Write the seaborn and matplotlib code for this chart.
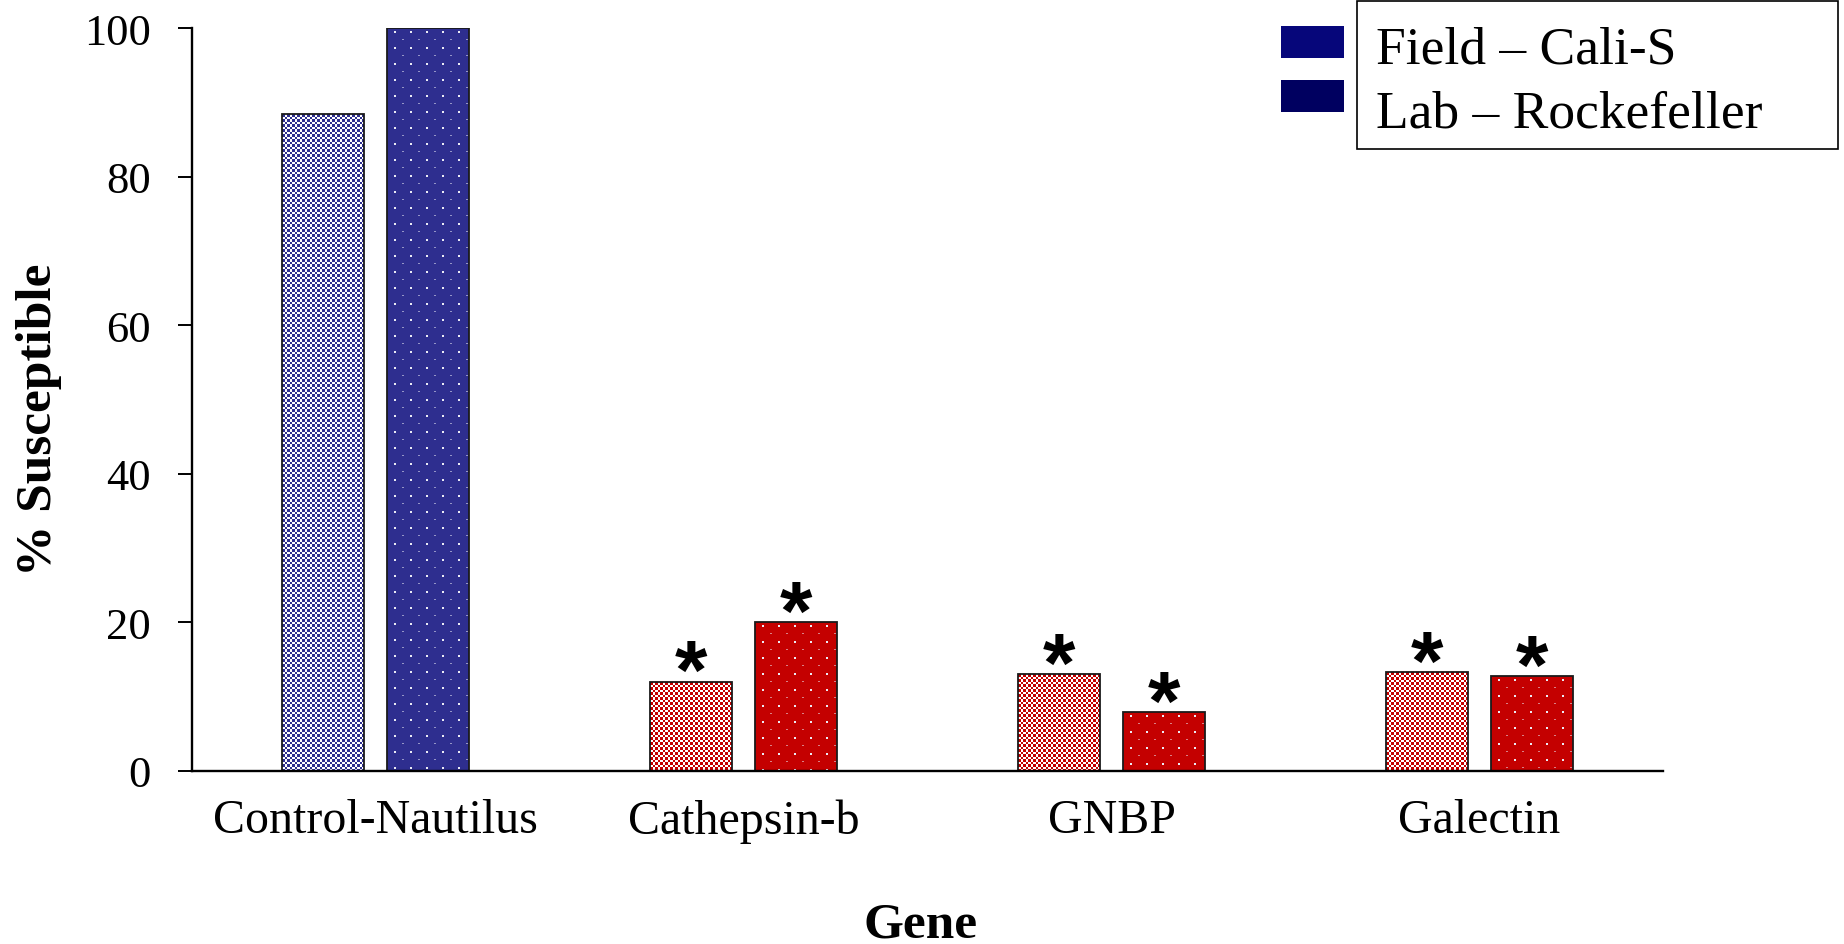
import matplotlib
matplotlib.use("Agg")
import matplotlib.pyplot as plt
import seaborn as sns
import numpy as np
import pandas as pd
from matplotlib.patches import Rectangle

# Data
genes = ["Control-Nautilus", "Cathepsin-b", "GNBP", "Galectin"]
strains = ["Field \u2013 Cali-S", "Lab \u2013 Rockefeller"]
field_pct = [88.5, 12.0, 13.0, 13.3]
lab_pct = [100.0, 20.0, 7.9, 12.7]
significant = [False, True, True, True]
yticks = [0, 20, 40, 60, 80, 100]

BLUE = (46, 46, 143)
RED = (196, 0, 0)
NAVY_FIELD = "#06067a"
NAVY_LAB = "#000060"

sns.set_theme(style="white")
plt.rcParams["font.family"] = ["Liberation Serif", "DejaVu Serif"]

df = pd.DataFrame({
    "Gene": genes * 2,
    "Strain": [strains[0]] * len(genes) + [strains[1]] * len(genes),
    "pct": field_pct + lab_pct,
})

DPI = 100
fig = plt.figure(figsize=(18.44, 9.45), dpi=DPI, facecolor="white")
ax = fig.add_axes([0.104, 0.1834, 0.7980, 0.7856])
ax.patch.set_visible(False)

sns.barplot(data=df, x="Gene", y="pct", hue="Strain", order=genes,
            hue_order=strains, width=0.572, gap=0.22, errorbar=None,
            legend=False, ax=ax)

ax.set_xlim(-0.5, len(genes) - 0.5)
ax.set_ylim(0, 100)


def checker(h, w, rgb):
    """Small checkerboard of the colour on white."""
    yy, xx = np.mgrid[0:h, 0:w]
    on = ((np.floor(yy / 2.5) + np.floor(xx / 2.5)) % 2) == 0
    img = np.full((h, w, 3), 255, dtype=np.uint8)
    img[on] = rgb
    return img


def dotted(h, w, rgb):
    """Solid colour with a staggered lattice of small light dots."""
    img = np.empty((h, w, 3), dtype=np.uint8)
    img[:] = rgb
    light = np.array([235, 235, 245], dtype=float)
    base = np.array(rgb, dtype=float)
    dash = 0.55 * light + 0.45 * base
    for y in range(3, h - 1, 16):
        for x in range(7, w - 1, 16):
            img[y:y + 2, x:x + 2] = light
    for y in range(11, h - 1, 16):
        for x in range(15, w - 1, 16):
            img[y, x:x + 2] = dash
    return img


# Textures: checkered for the field strain, dotted for the lab strain;
# the control gene in blue, the test genes in red.
makers = [checker, dotted]
for h, container in enumerate(ax.containers):
    for j, bar in enumerate(container):
        rgb = BLUE if j == 0 else RED
        bbox = bar.get_window_extent()
        x0, x1 = int(round(bbox.x0)), int(round(bbox.x1))
        y0, y1 = int(round(bbox.y0)), int(round(bbox.y1))
        tex = makers[h](y1 - y0, x1 - x0, rgb)
        fig.figimage(tex, xo=x0, yo=y0, origin="upper", zorder=-1)
        bar.set_facecolor("none")
        bar.set_edgecolor("#1a1a1a")
        bar.set_linewidth(1.3)
        if significant[j]:
            ax.annotate("*", (bar.get_x() + bar.get_width() / 2, bar.get_height()),
                        xytext=(0, -12), textcoords="offset points",
                        ha="center", va="baseline", fontsize=60,
                        fontweight="bold", family="Liberation Sans",
                        color="black")

ax.set_yticks(yticks)
ax.set_yticklabels([str(t) for t in yticks])

for side in ["top", "right"]:
    ax.spines[side].set_visible(False)
for side in ["left", "bottom"]:
    ax.spines[side].set_color("black")
    ax.spines[side].set_linewidth(1.7)

ax.tick_params(axis="y", direction="out", length=10, width=1.4,
               pad=19.5, labelsize=32, colors="black", left=True)
ax.tick_params(axis="x", length=0, pad=20, labelsize=34.5, colors="black")

ax.set_xlabel("Gene", fontsize=37, fontweight="bold", color="black")
ax.xaxis.set_label_coords(0.495, -0.2227)
ax.xaxis.label.set_verticalalignment("baseline")

ax.set_ylabel("% Susceptible", fontsize=37, fontweight="bold", color="black")
ax.yaxis.set_label_coords(-0.104, 0.474)
ax.yaxis.label.set_verticalalignment("center")
ax.yaxis.label.set_horizontalalignment("center")

# Legend: swatches sit left of the framed labels
W, H = 1844.0, 945.0


def fx(px):
    return px / W


def fy(py):
    return 1 - py / H


fig.patches.append(Rectangle((fx(1357), fy(150)), fx(1838) - fx(1357), fy(2) - fy(150),
                             transform=fig.transFigure, fill=False,
                             edgecolor="black", linewidth=1.2))
swatch_colors = [NAVY_FIELD, NAVY_LAB]
swatch_top = [27, 81]
text_base = [63, 128]
for i, name in enumerate(strains):
    fig.patches.append(Rectangle((fx(1281), fy(swatch_top[i] + 32)), fx(1344) - fx(1281),
                                 fy(swatch_top[i]) - fy(swatch_top[i] + 32),
                                 transform=fig.transFigure, facecolor=swatch_colors[i],
                                 edgecolor="none", linewidth=0))
    fig.text(fx(1376), fy(text_base[i]), name, fontsize=38.5, va="baseline",
             ha="left", color="black")

fig.savefig("out.png", dpi=DPI, facecolor="white")
